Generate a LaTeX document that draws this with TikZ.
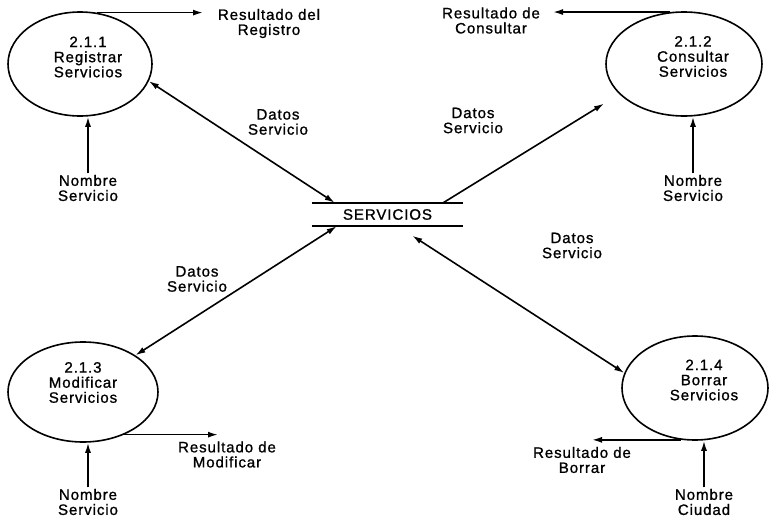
\documentclass[tikz,border=0pt]{standalone}
\usepackage{fontspec}
\setmainfont{Liberation Sans}[LetterSpace=6,FakeBold=1]
\usetikzlibrary{arrows.meta,calc,shapes.geometric}
\begin{document}
\begin{tikzpicture}[x=0.75pt,y=-0.75pt,
  proc/.style={draw,ellipse,line width=1.2pt,inner sep=0pt},
  txt/.style={align=center,font=\fontsize{11.3}{11.3}\selectfont,inner sep=1pt},
  flow/.style={line width=1.2pt,-{Latex[length=7.5pt,width=4.5pt]}},
  bflow/.style={line width=1.2pt,{Latex[length=7.5pt,width=4.5pt]}-{Latex[length=7.5pt,width=4.5pt]}},
  storeline/.style={line width=1.2pt}]
\useasboundingbox (0,0) rectangle (769,518);

% processes
\node[proc,minimum width=108pt,minimum height=78pt] (p1) at (80,64) {};
\node[txt] (t1) at (88,57) {2.1.1\\Registrar\\Servicios};
\node[proc,minimum width=117pt,minimum height=78pt] (p2) at (684,64) {};
\node[txt] (t2) at (693,56.5) {2.1.2\\Consultar\\Servicios};
\node[proc,minimum width=112.5pt,minimum height=75pt] (p3) at (83,392) {};
\node[txt] (t3) at (83,382.5) {2.1.3\\Modificar\\Servicios};
\node[proc,minimum width=109.5pt,minimum height=78pt] (p4) at (695,388) {};
\node[txt] (t4) at (704,380) {2.1.4\\Borrar\\Servicios};

% data store
\node[txt,minimum width=113.25pt,minimum height=17.25pt,inner sep=0pt] (store) at (387.5,214.5) {SERVICIOS};
\draw[storeline] (store.north west) -- (store.north east);
\draw[storeline] (store.south west) -- (store.south east);

% external texts
\node[txt] (o1) at (269,23.5) {Resultado del\\Registro};
\node[txt] (o2) at (491,20.5) {Resultado de\\Consultar};
\node[txt] (o3) at (227,454.5) {Resultado de\\Modificar};
\node[txt] (o4) at (582,460) {Resultado de\\Borrar};
\node[txt] (n1) at (88,188) {Nombre\\Servicio};
\node[txt] (n2) at (693,188) {Nombre\\Servicio};
\node[txt] (n3) at (88,502) {Nombre\\Servicio};
\node[txt] (n4) at (704,502) {Nombre\\Ciudad};
\node[txt] (d1) at (278,122) {Datos\\Servicio};
\node[txt] (d2) at (473,120.5) {Datos\\Servicio};
\node[txt] (d3) at (197,279) {Datos\\Servicio};
\node[txt] (d4) at (572,245.5) {Datos\\Servicio};

\coordinate (r1tip) at (203,13);
\coordinate (r2tip) at (553,12);
\coordinate (r3tip) at (218,432);
\coordinate (r4tip) at (592,440);

% outputs
\draw[flow] (p1.72) -- (p1.72 -| r1tip);
\draw[flow] (p2.105) -- (p2.105 -| r2tip);
\draw[flow] (p3.-46) -- (p3.-46 -| r3tip);
\draw[flow] (p4.-105) -- (p4.-105 -| r4tip);

% inputs
\draw[flow] (n1.north) -- (n1.north |- p1.south);
\draw[flow] (n2.north) -- (n2.north |- p2.south);
\draw[flow] (n3.north) -- (n3.north |- p3.south);
\draw[flow] (n4.north) -- (n4.north |- p4.south);

% store flows
\draw[bflow] (p1.-14) -- ($(store.north west)+(23,0)$);
\draw[flow,shorten >=13.5pt] ($(store.north east)+(-20,0)$) -- (p2.205);
\draw[bflow] ($(store.south west)+(25,0)$) -- (p3.35);
\draw[bflow,shorten <=13pt] ($(store.south west)+(86,0)$) -- (p4.168);
\end{tikzpicture}
\end{document}
